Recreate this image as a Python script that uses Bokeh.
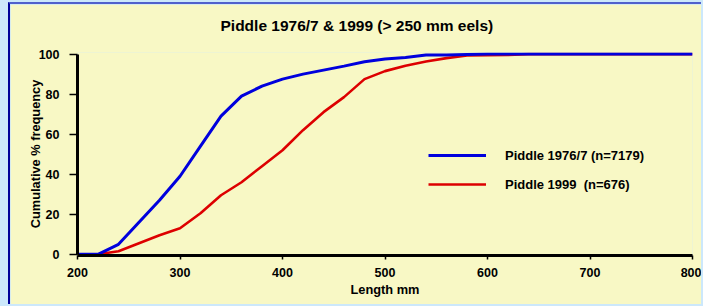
from bokeh.plotting import figure
from bokeh.models import Range1d, Legend, LegendItem, FixedTicker, LinearAxis
from bokeh.embed import file_html
from bokeh.resources import INLINE

# ---- data ----
length_mm = [200, 220, 240, 260, 280, 300, 320, 340, 360, 380, 400, 420, 440, 460,
             480, 500, 520, 540, 560, 580, 600, 620, 640, 660, 680, 700, 720, 740,
             760, 780, 800]
cum_1976 = [0, 0, 5, 16, 27, 39, 54, 69, 79, 84, 87.5, 90, 92, 94,
            96.2, 97.5, 98.3, 99.5, 99.6, 99.8, 100, 100, 100, 100, 100, 100, 100, 100,
            100, 100, 100]
cum_1999 = [0, 0, 1.5, 5.5, 9.5, 13, 20.5, 29.5, 36, 44, 52, 62, 71, 78.5,
            87.5, 91.5, 94.2, 96.3, 98, 99.3, 99.5, 99.6, 100, 100, 100, 100, 100, 100,
            100, 100, 100]
x_ticks = [200, 300, 400, 500, 600, 700, 800]
y_ticks = [0, 20, 40, 60, 80, 100]
title_text = "Piddle 1976/7 & 1999  (> 250 mm eels)"
label_1976 = "Piddle 1976/7 (n=7179)"
label_1999 = "Piddle 1999  (n=676)"

BG = "#f8f8c5"
FONT = "Liberation Sans"

p = figure(width=693, height=302, output_backend="svg", toolbar_location=None,
           x_range=Range1d(200, 800), y_range=Range1d(-0.6, 100.8),
           min_border_left=67, min_border_right=11, min_border_top=48,
           min_border_bottom=51)
p.background_fill_color = BG
p.border_fill_color = BG
p.outline_line_color = None
p.grid.visible = False
p.styles = {"border-left": "2px solid #000099", "border-top": "2px solid #5060cc"}

p.title.text = title_text
p.title.align = "left"
p.title.offset = 143
p.title.standoff = 10
p.title.text_font = FONT
p.title.text_font_style = "bold"
p.title.text_font_size = "15.5px"
p.title.text_color = "black"

# invisible spacer between the title and the plot frame
spacer = LinearAxis(ticker=FixedTicker(ticks=[500]), axis_line_color=None,
                    major_tick_out=14, major_tick_in=0, major_tick_line_color=None,
                    minor_tick_line_color=None, major_label_standoff=0,
                    major_label_overrides={500: ""}, major_label_text_font_size="1px")
p.add_layout(spacer, "above")

r_red = p.line(length_mm, cum_1999, line_color="#dd0000", line_width=2.6)
r_blue = p.line(length_mm, cum_1976, line_color="#0000dd", line_width=3)

xa = p.below[0]
ya = p.left[0]
for ax in (xa, ya):
    ax.axis_line_width = 3
    ax.axis_line_color = "black"
    ax.major_tick_line_width = 1.5
    ax.major_tick_line_color = "black"
    ax.major_tick_in = 0
    ax.minor_tick_line_color = None
    ax.major_label_text_font = FONT
    ax.major_label_text_font_style = "bold"
    ax.major_label_text_font_size = "12.5px"
    ax.major_label_text_color = "black"
    ax.axis_label_text_font = FONT
    ax.axis_label_text_font_style = "bold"
    ax.axis_label_text_font_size = "12.8px"
    ax.axis_label_text_color = "black"

xa.ticker = FixedTicker(ticks=x_ticks)
xa.major_tick_out = 4
xa.major_label_standoff = 8
xa.axis_label = "Length mm"
xa.axis_label_standoff = 2

ya.ticker = FixedTicker(ticks=y_ticks)
ya.bounds = (0, 100)
ya.major_tick_out = 8
ya.major_label_standoff = 10
ya.axis_label = "Cumulative % frequency"
ya.axis_label_standoff = -7

legend = Legend(items=[LegendItem(label=label_1976, renderers=[r_blue]),
                       LegendItem(label=label_1999, renderers=[r_red])],
                location=(351, 61), padding=0, margin=0, border_line_color=None,
                background_fill_alpha=0, glyph_width=58, glyph_height=20,
                label_height=20, spacing=9, label_standoff=19,
                label_text_font=FONT, label_text_font_style="bold",
                label_text_font_size="13px", label_text_color="black")
p.add_layout(legend)

html = file_html(p, INLINE)
html = html.replace(
    "</head>",
    "<style>html,body{margin:0;padding:0;overflow:hidden;}"
    "body{padding:2px 0 0 8px;background:#cce8fb;}</style></head>", 1)
open("out.html", "w").write(html)
